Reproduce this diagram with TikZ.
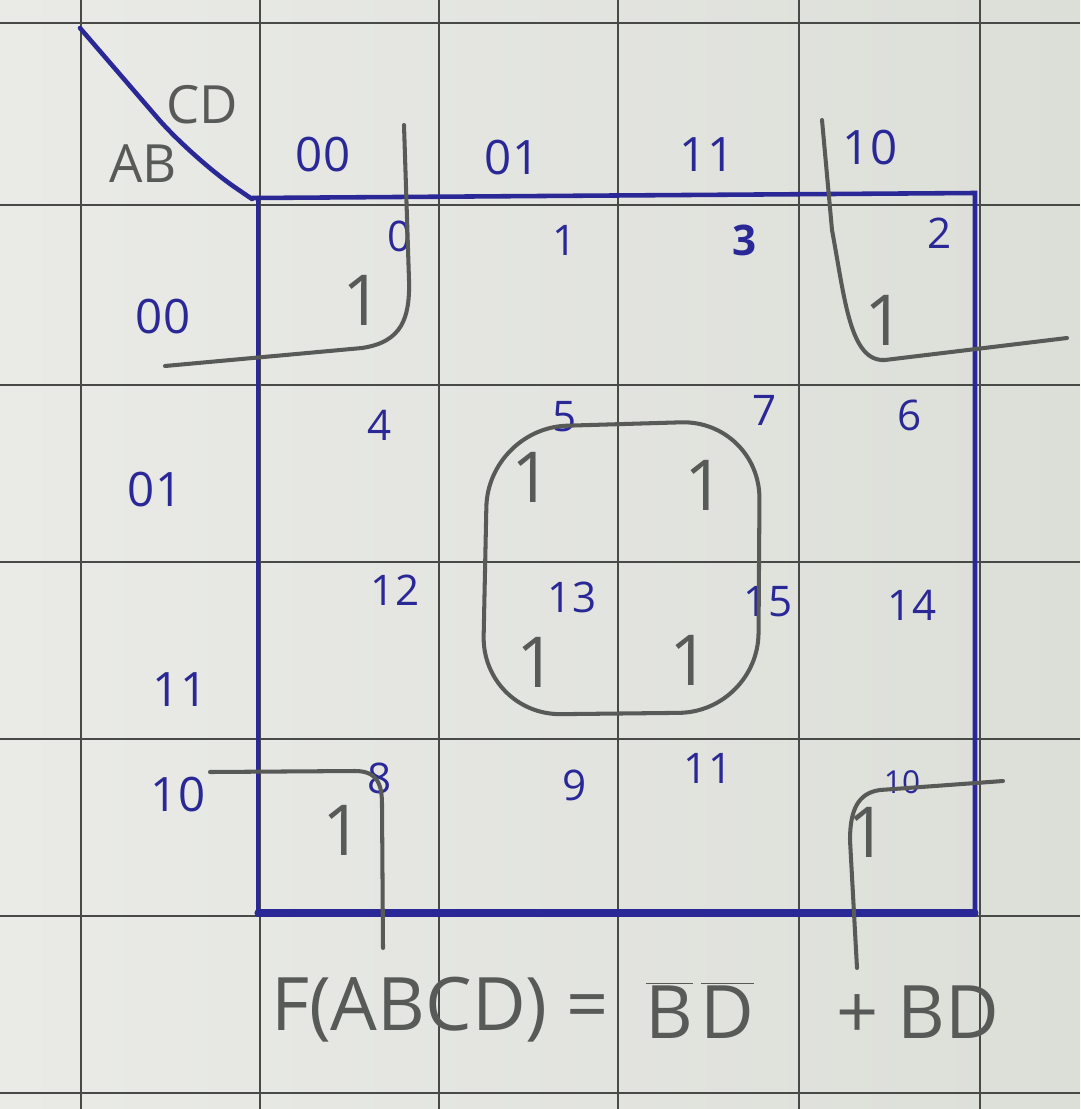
\documentclass[tikz,border=0pt]{standalone}
\usepackage{fontspec}
\setmainfont{Open Sans}
\definecolor{paper}{RGB}{234,235,231}
\definecolor{paperdark}{RGB}{220,222,216}
\definecolor{rule}{RGB}{72,74,72}
\definecolor{ink}{RGB}{42,40,150}
\definecolor{pencil}{RGB}{88,90,88}

\begin{document}
\begin{tikzpicture}
  [x=0.02cm, y=-0.02cm,
   idx/.style={ink, font=\fontsize{24}{24}\selectfont, inner sep=0pt},
   head/.style={ink, font=\fontsize{27}{27}\selectfont, inner sep=0pt},
   one/.style={pencil, font=\fontsize{40}{40}\selectfont, inner sep=0pt},
   lbl/.style={pencil, font=\fontsize{30}{30}\selectfont, inner sep=0pt},
   eqn/.style={pencil, font=\fontsize{42}{42}\selectfont, inner sep=0pt},
   grp/.style={pencil, line width=2.3pt, line cap=round, line join=round},
   box/.style={ink, line width=2.6pt, line cap=round},
   grid/.style={rule, line width=1.4pt}]

  \useasboundingbox (0,0) rectangle (1080,1109);
  \shade[left color=paper, right color=paperdark] (0,0) rectangle (1080,1109);

  % paper grid
  \foreach \x in {81,260,439,618,799,980}
    \draw[grid] (\x,0) -- (\x,1109);
  \foreach \y in {23,205,385,562,739,916,1093}
    \draw[grid] (0,\y) -- (1080,\y);

  % map frame
  \draw[box, rounded corners=30] (80,28) -- (192,158) -- (252,199);
  \draw[box] (252,198) -- (975,193) -- (975,913);
  \draw[box] (258,198) -- (258,913);
  \draw[ink, line width=4pt, line cap=round] (258,913) -- (975,913);

  % variable labels
  \node[lbl] (cd) at (202,105) {CD};
  \node[lbl] (ab) at (143,164) {AB};

  \node[head] (h00) at (323,155) {00};
  \node[head] (h01) at (512,158) {01};
  \node[head] (h11) at (707,155) {11};
  \node[head] (h10) at (870,148) {10};

  \node[head] (r00) at (163,317) {00};
  \node[head] (r01) at (155,490) {01};
  \node[head] (r11) at (180,690) {11};
  \node[head] (r10) at (178,795) {10};

  % cell numbers
  \node[idx] (c0) at (400,236) {0};
  \node[idx] (c1) at (565,240) {1};
  \node[idx, font=\fontsize{24}{24}\selectfont\bfseries] (c3) at (745,240) {3};
  \node[idx] (c2) at (940,233) {2};
  \node[idx] (c4) at (380,425) {4};
  \node[idx] (c5) at (565,417) {5};
  \node[idx] (c7) at (765,410) {7};
  \node[idx] (c6) at (910,415) {6};
  \node[idx] (c12) at (395,590) {12};
  \node[idx] (c13) at (572,597) {13};
  \node[idx] (c15) at (768,602) {15};
  \node[idx] (c14) at (912,605) {14};
  \node[idx] (c8) at (380,778) {8};
  \node[idx] (c9) at (575,785) {9};
  \node[idx] (c11) at (708,768) {11};
  \node[idx, font=\fontsize{18}{18}\selectfont] (c10) at (902,782) {10};

  % minterms
  \node[one] (o0) at (363,300) {1};
  \node[one] (o2) at (885,320) {1};
  \node[one] (o5) at (532,477) {1};
  \node[one] (o7) at (705,485) {1};
  \node[one] (o13) at (537,662) {1};
  \node[one] (o15) at (690,660) {1};
  \node[one] (o8) at (343,830) {1};
  \node[one] (o10) at (868,832) {1};

  % groups
  \draw[grp] (165,366) -- (362,348) .. controls (402,342) and (410,318) .. (409,280) -- (404,125);
  \draw[grp] (822,120) -- (832,230) .. controls (845,300) and (850,362) .. (885,360) -- (1067,338);
  \draw[grp] (210,772) -- (355,771) .. controls (378,771) and (382,785) .. (382,805) -- (383,948);
  \draw[grp] (1003,781) -- (880,790) .. controls (858,793) and (850,810) .. (850,840) -- (857,968);
  \draw[grp, rounded corners=45] (488,428) -- (760,420) -- (758,712) -- (482,715) -- cycle;

  % result
  \node[eqn] (lhs) at (440,1010) {F(ABCD) =};
  \node[eqn] (t1) at (700,1010) {$\overline{\mbox{B}}\,\overline{\mbox{D}}$};
  \node[eqn] (t2) at (918,1012) {+ BD};
\end{tikzpicture}
\end{document}
